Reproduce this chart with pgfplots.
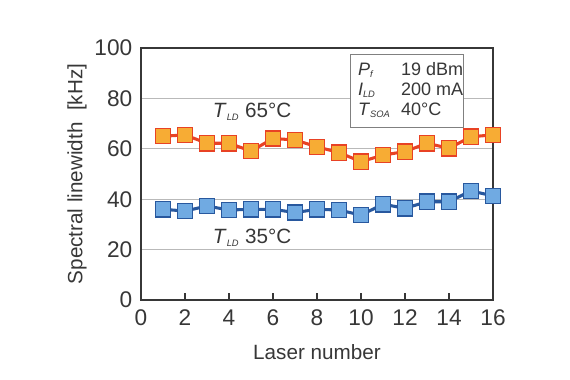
\documentclass[border=0pt]{standalone}
\usepackage{fontspec}
\setmainfont{Liberation Sans}
\usepackage{pgfplots}
\pgfplotsset{compat=1.18}
\definecolor{orfill}{RGB}{247,172,52}
\definecolor{oredge}{RGB}{232,66,36}
\definecolor{blfill}{RGB}{112,170,226}
\definecolor{bledge}{RGB}{40,88,158}
\definecolor{gridc}{RGB}{185,185,185}
\definecolor{axc}{RGB}{55,55,55}
\begin{document}
\begin{tikzpicture}
\path[use as bounding box] (-105.75pt,-59.25pt) rectangle (321.75pt,225pt);
\begin{axis}[
  scale only axis, width=264pt, height=189pt,
  xmin=0, xmax=16, ymin=0, ymax=100,
  xtick={0,2,...,16}, ytick={0,20,...,100},
  xtick pos=bottom, ytick pos=left,
  tick align=inside, major tick length=5pt,
  ytick style={draw=none},
  xtick style={axc, line width=0.8pt},
  ymajorgrids, grid style={gridc, line width=0.8pt},
  axis line style={axc, line width=1.1pt},
  /pgf/number format/assume math mode=true,
  tick label style={font=\fontsize{17}{20}\selectfont, text=axc},
  xticklabel style={yshift=-4pt},
  yticklabel style={xshift=-3pt},
  label style={font=\fontsize{15.5}{18}\selectfont, text=axc},
  xlabel={Laser number}, ylabel={Spectral linewidth\ \ [kHz]},
  xlabel style={yshift=-7pt},
  ylabel style={yshift=-1pt},
  clip=false,
]
\addplot[oredge, line width=2.3pt, mark=square*, mark size=5.7pt,
  mark options={fill=orfill, draw=oredge, line width=1pt}]
  coordinates {(1,65.0)(2,65.5)(3,62.2)(4,62.2)(5,59.1)(6,64.1)(7,63.5)(8,60.8)
  (9,58.5)(10,54.9)(11,57.5)(12,58.9)(13,62.2)(14,60.2)(15,64.8)(16,65.5)};
\addplot[bledge, line width=2.3pt, mark=square*, mark size=5.7pt,
  mark options={fill=blfill, draw=bledge, line width=1pt}]
  coordinates {(1,36.0)(2,35.3)(3,37.3)(4,35.7)(5,36.0)(6,36.0)(7,34.7)(8,36.0)
  (9,35.7)(10,33.7)(11,38.0)(12,36.4)(13,39.0)(14,39.0)(15,43.3)(16,41.3)};
\node[font=\fontsize{15.5}{18}\selectfont, text=axc] at (axis cs:5.05,74.6) {\textit{T}\textsubscript{\textit{\scriptsize LD}} 65°C};
\node[font=\fontsize{15.5}{18}\selectfont, text=axc] at (axis cs:5.05,24.6) {\textit{T}\textsubscript{\textit{\scriptsize LD}} 35°C};
\draw[gray, line width=0.7pt, fill=white] (axis cs:9.5,68.3) rectangle (axis cs:14.64,97.6);
\node[font=\fontsize{13.5}{16}\selectfont, text=axc, anchor=west, align=left] at (axis cs:9.65,83)
  {\begin{tabular}{@{}l@{\hspace{8pt}}l@{}}
   \textit{P}\textsubscript{\textit{\scriptsize f}} & 19 dBm\\[-1pt]
   \textit{I}\textsubscript{\textit{\scriptsize LD}} & 200 mA\\[-1pt]
   \textit{T}\textsubscript{\textit{\scriptsize SOA}} & 40°C
   \end{tabular}};
\end{axis}
\end{tikzpicture}
\end{document}
